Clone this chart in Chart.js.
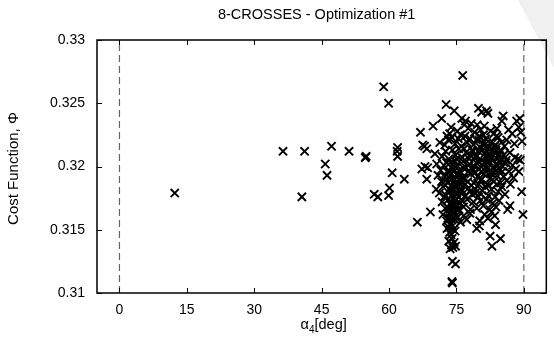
<!DOCTYPE html>
<html>
<head>
<meta charset="utf-8">
<script src="https://cdn.jsdelivr.net/npm/chart.js@4.4.1/dist/chart.umd.min.js"></script>
<style>
  html, body { margin: 0; padding: 0; background: #fff; }
  #wrap { width: 554px; height: 348px; position: relative; }
</style>
</head>
<body>
<div id="wrap"><canvas id="grafico"></canvas></div>
<script>
// dados (alpha4 em graus, phi = funcao custo)
var alpha4 = [
  12.3, 36.4, 40.6, 41.2, 45.8, 46.2, 47.2, 51.1, 54.7, 54.9, 56.7, 57.5, 58.8, 59.9, 59.9, 60.1, 60.7, 61.8, 61.9, 61.9, 63.4, 66.3,
  76.4, 72.7, 74.5, 71.7, 76.2, 77.0, 79.9, 80.6, 81.7, 82.0, 85.4, 85.1, 88.4, 89.1,
  67.0, 69.8, 72.9, 73.5, 73.8, 75.2, 76.8, 77.6, 78.3, 79.0, 79.6, 80.4, 81.2, 82.6, 83.3, 84.0, 86.6, 87.4, 88.9, 89.3,
  67.5, 67.9, 68.4, 71.3, 72.4, 73.2, 74.0, 74.7, 75.4, 75.9, 76.1, 76.9, 77.4, 78.0, 78.8, 79.4, 80.1, 80.8, 81.0, 81.5, 82.2, 82.9, 83.6, 83.9, 84.3, 85.0, 85.7, 86.2, 87.9, 89.6,
  70.2, 71.8, 72.6, 73.3, 74.1, 74.8, 75.0, 75.5, 76.3, 76.7, 77.1, 77.8, 78.1, 78.5, 79.2, 79.9, 80.3, 80.6, 81.3, 81.7, 82.0, 82.4, 82.7, 83.4, 83.8, 84.1, 84.5, 84.8, 85.5, 86.1, 86.9, 88.0, 88.7, 89.2,
  67.3, 68.0, 68.6, 70.6, 71.5, 72.2, 72.9, 73.6, 74.3, 74.7, 75.1, 75.8, 76.5, 77.2, 77.9, 78.7, 79.0, 79.4, 80.1, 80.9, 81.6, 81.9, 82.3, 83.1, 83.8, 84.2, 84.6, 85.3, 86.0, 86.7, 87.5, 88.2, 88.9,
  68.4, 70.9, 71.7, 72.4, 73.1, 73.4, 73.8, 74.5, 75.3, 75.7, 76.0, 76.8, 77.5, 78.2, 78.9, 79.7, 80.0, 80.4, 81.1, 81.8, 82.6, 82.9, 83.3, 84.0, 84.8, 85.5, 86.2, 87.0, 87.7,
  70.5, 71.2, 72.0, 72.7, 73.4, 73.9, 74.1, 74.8, 75.5, 75.9, 76.3, 77.0, 77.7, 78.0, 78.5, 79.2, 79.9, 80.2, 80.7, 81.4, 82.1, 82.8, 83.6, 84.3, 85.1, 85.8, 89.5,
  69.2, 71.8, 72.5, 73.2, 73.6, 73.9, 74.3, 74.6, 75.2, 75.9, 76.6, 77.4, 78.1, 78.8, 79.5, 80.3, 81.0, 81.7, 82.4, 83.1, 83.8, 84.5, 86.4, 86.9,
  72.0, 72.8, 73.4, 73.7, 74.0, 74.6, 75.3, 75.9, 76.6, 77.3, 78.0, 80.2, 81.3, 82.0, 82.8, 83.5, 89.8,
  72.9, 73.5, 74.1, 74.7, 73.8, 74.3, 79.5, 80.1, 83.7, 82.5, 84.8, 73.3, 73.9, 74.5, 73.6, 74.2, 74.8, 82.9, 74.0,
  74.1, 74.8, 74.0, 74.1,
  72.3, 72.6, 73.0, 73.3, 73.5, 73.7, 74.0, 74.2, 74.4, 74.6, 74.9, 75.1, 75.4, 75.6, 76.0, 76.2, 76.5, 72.8, 73.1, 73.9, 74.7, 75.0, 75.7, 76.4, 73.3, 74.2, 74.9, 75.6, 73.7, 74.4,
  78.4, 79.1, 79.8, 80.5, 81.2, 81.9, 82.5, 83.2, 83.9, 84.6, 85.2, 78.7, 79.5, 80.8, 82.1, 83.5, 84.9, 80.0, 81.5, 83.0, 77.6, 77.0, 78.3, 79.2, 80.6, 82.2, 84.0, 85.6
];
var phi = [
  0.3179, 0.3212, 0.3176, 0.3212, 0.3202, 0.3193, 0.3216, 0.3212, 0.3207, 0.3208, 0.3178, 0.3176, 0.3263, 0.3250, 0.3177, 0.3183, 0.3195, 0.3212, 0.3215, 0.3208, 0.3190, 0.3156,
  0.3272, 0.3249, 0.3244, 0.3238, 0.3238, 0.3236, 0.3246, 0.3243, 0.3244, 0.3242, 0.3240, 0.3236, 0.3236, 0.3238,
  0.3227, 0.3232, 0.3224, 0.3226, 0.3231, 0.3228, 0.3233, 0.3230, 0.3234, 0.3227, 0.3233, 0.3229, 0.3232, 0.3228, 0.3226, 0.3230, 0.3229, 0.3226, 0.3231, 0.3227,
  0.3217, 0.3216, 0.3214, 0.3219, 0.3217, 0.3221, 0.3223, 0.3218, 0.3222, 0.3225, 0.3216, 0.3224, 0.3219, 0.3222, 0.3217, 0.3221, 0.3224, 0.3218, 0.3225, 0.3222, 0.3216, 0.3220, 0.3217, 0.3224, 0.3223, 0.3219, 0.3216, 0.3221, 0.3218, 0.3220,
  0.3210, 0.3208, 0.3212, 0.3206, 0.3213, 0.3209, 0.3206, 0.3214, 0.3207, 0.3214, 0.3211, 0.3206, 0.3209, 0.3213, 0.3208, 0.3212, 0.3215, 0.3205, 0.3210, 0.3207, 0.3214, 0.3210, 0.3207, 0.3211, 0.3213, 0.3206, 0.3209, 0.3213, 0.3209, 0.3205, 0.3211, 0.3207, 0.3206, 0.3205,
  0.3198, 0.3200, 0.3199, 0.3202, 0.3197, 0.3201, 0.3196, 0.3203, 0.3198, 0.3204, 0.3201, 0.3196, 0.3204, 0.3199, 0.3202, 0.3197, 0.3200, 0.3203, 0.3198, 0.3201, 0.3196, 0.3203, 0.3204, 0.3199, 0.3202, 0.3201, 0.3197, 0.3200, 0.3203, 0.3196, 0.3201, 0.3198, 0.3196,
  0.3190, 0.3193, 0.3188, 0.3192, 0.3187, 0.3191, 0.3194, 0.3189, 0.3193, 0.3190, 0.3186, 0.3191, 0.3188, 0.3194, 0.3187, 0.3192, 0.3186, 0.3189, 0.3194, 0.3186, 0.3191, 0.3194, 0.3188, 0.3193, 0.3187, 0.3192, 0.3189, 0.3186, 0.3191,
  0.3182, 0.3179, 0.3184, 0.3177, 0.3182, 0.3185, 0.3178, 0.3184, 0.3176, 0.3183, 0.3181, 0.3177, 0.3183, 0.3180, 0.3178, 0.3182, 0.3176, 0.3179, 0.3181, 0.3184, 0.3177, 0.3182, 0.3176, 0.3180, 0.3184, 0.3178, 0.3180,
  0.3164, 0.3172, 0.3167, 0.3174, 0.3166, 0.3169, 0.3175, 0.3173, 0.3166, 0.3171, 0.3168, 0.3174, 0.3166, 0.3172, 0.3167, 0.3173, 0.3169, 0.3174, 0.3166, 0.3171, 0.3168, 0.3173, 0.3166, 0.3169,
  0.3162, 0.3157, 0.3163, 0.3155, 0.3158, 0.3164, 0.3160, 0.3156, 0.3161, 0.3158, 0.3163, 0.3157, 0.3162, 0.3159, 0.3164, 0.3161, 0.3162,
  0.3151, 0.3148, 0.3153, 0.3149, 0.3146, 0.3150, 0.3151, 0.3153, 0.3154, 0.3145, 0.3143, 0.3141, 0.3138, 0.3140, 0.3135, 0.3136, 0.3137, 0.3137, 0.3143,
  0.3125, 0.3123, 0.3109, 0.3108,
  0.3176, 0.3189, 0.3168, 0.3196, 0.3159, 0.3181, 0.3164, 0.3191, 0.3170, 0.3186, 0.3161, 0.3179, 0.3194, 0.3166, 0.3188, 0.3173, 0.3199, 0.3203, 0.3159, 0.3199, 0.3158, 0.3188, 0.3180, 0.3191, 0.3152, 0.3181, 0.3170, 0.3197, 0.3170, 0.3196,
  0.3199, 0.3195, 0.3204, 0.3196, 0.3203, 0.3199, 0.3195, 0.3205, 0.3197, 0.3204, 0.3196, 0.3212, 0.3208, 0.3213, 0.3208, 0.3216, 0.3212, 0.3221, 0.3218, 0.3213, 0.3196, 0.3186, 0.3185, 0.3179, 0.3190, 0.3185, 0.3186, 0.3203
];
var xTicks = [0, 15, 30, 45, 60, 75, 90];
var yTicks = [0.31, 0.315, 0.32, 0.325, 0.33];
var yTickLabels = ["0.31", "0.315", "0.32", "0.325", "0.33"];
var limites = [0, 90];   // linhas tracejadas verticais
var titulo = "8-CROSSES - Optimization #1";
var tituloY = "Cost Function, \u03A6";

var fonte = "'Liberation Sans', Arial, sans-serif";

function montarPontos() {
  var pts = [];
  for (var i = 0; i < alpha4.length; i++) {
    pts.push({ x: alpha4[i], y: phi[i] });
  }
  return pts;
}

// faixa cinza clara no canto (marca d'agua da imagem original)
var fundo = {
  id: "fundo",
  beforeDraw: function(chart) {
    var ctx = chart.ctx;
    ctx.save();
    ctx.fillStyle = "#f0f0f0";
    ctx.beginPath();
    ctx.moveTo(518, 0);
    ctx.lineTo(554, 0);
    ctx.lineTo(554, 68);
    ctx.closePath();
    ctx.fill();
    ctx.restore();
  }
};

// moldura com ticks para dentro, titulo e rotulos dos eixos
var moldura = {
  id: "moldura",
  afterDraw: function(chart) {
    var ctx = chart.ctx;
    var a = chart.chartArea;
    var xs = chart.scales.x, ys = chart.scales.y;
    ctx.save();
    ctx.strokeStyle = "#000";
    ctx.lineWidth = 1.5;
    ctx.strokeRect(a.left, a.top, a.right - a.left, a.bottom - a.top);

    ctx.lineWidth = 1;
    ctx.beginPath();
    xTicks.forEach(function(v) {
      var px = Math.round(xs.getPixelForValue(v)) + 0.5;
      ctx.moveTo(px, a.bottom); ctx.lineTo(px, a.bottom - 5);
      ctx.moveTo(px, a.top); ctx.lineTo(px, a.top + 5);
    });
    yTicks.forEach(function(v) {
      var py = Math.round(ys.getPixelForValue(v)) + 0.5;
      ctx.moveTo(a.left, py); ctx.lineTo(a.left + 5, py);
      ctx.moveTo(a.right, py); ctx.lineTo(a.right - 5, py);
    });
    ctx.stroke();

    ctx.fillStyle = "#000";
    var cx = (a.left + a.right) / 2;
    ctx.font = "14.5px " + fonte;
    ctx.textAlign = "center";
    ctx.textBaseline = "middle";
    ctx.fillText(titulo, cx - 5, 15);

    // alpha com subscrito 4
    var p1 = "\u03B1", p2 = "4", p3 = "[deg]";
    ctx.font = "14.5px " + fonte;
    var w1 = ctx.measureText(p1).width, w3 = ctx.measureText(p3).width;
    ctx.font = "10px " + fonte;
    var w2 = ctx.measureText(p2).width;
    var x0 = cx + 2 - (w1 + w2 + w3) / 2;
    var yl = 325;
    ctx.textAlign = "left";
    ctx.font = "14.5px " + fonte;
    ctx.fillText(p1, x0, yl);
    ctx.font = "10px " + fonte;
    ctx.fillText(p2, x0 + w1, yl + 5);
    ctx.font = "14.5px " + fonte;
    ctx.fillText(p3, x0 + w1 + w2, yl);

    ctx.translate(14, (a.top + a.bottom) / 2 + 2);
    ctx.rotate(-Math.PI / 2);
    ctx.textAlign = "center";
    ctx.font = "15px " + fonte;
    ctx.fillText(tituloY, 0, 0);
    ctx.restore();
  }
};

var datasets = [{
  type: "scatter",
  data: montarPontos(),
  pointStyle: "crossRot",
  pointRadius: 5.8,
  pointBorderWidth: 1.9,
  borderColor: "#000",
  backgroundColor: "#000"
}];
limites.forEach(function(v) {
  datasets.push({
    type: "line",
    data: [{ x: v, y: yTicks[0] }, { x: v, y: yTicks[yTicks.length - 1] }],
    borderColor: "#666",
    borderWidth: 1.2,
    borderDash: [7, 4],
    pointRadius: 0,
    fill: false
  });
});

new Chart(document.getElementById("grafico"), {
  type: "scatter",
  data: { datasets: datasets },
  options: {
    responsive: true,
    maintainAspectRatio: false,
    animation: false,
    layout: { padding: { left: 0, right: 6, top: 40, bottom: 0 } },
    plugins: { legend: { display: false }, tooltip: { enabled: false } },
    scales: {
      x: {
        type: "linear",
        min: -5, max: 95,
        grid: { display: false, drawTicks: false },
        border: { display: false },
        ticks: { color: "#000", padding: 9, font: { family: fonte, size: 14 } },
        afterBuildTicks: function(s) { s.ticks = xTicks.map(function(v) { return { value: v }; }); },
        afterFit: function(s) { s.height = 55; }
      },
      y: {
        type: "linear",
        min: 0.31, max: 0.33,
        grid: { display: false, drawTicks: false },
        border: { display: false },
        ticks: {
          color: "#000", padding: 12, font: { family: fonte, size: 14 },
          callback: function(v, i) { return yTickLabels[i]; }
        },
        afterBuildTicks: function(s) { s.ticks = yTicks.map(function(v) { return { value: v }; }); },
        afterFit: function(s) { s.width = 97; }
      }
    }
  },
  plugins: [fundo, moldura]
});
</script>
</body>
</html>
